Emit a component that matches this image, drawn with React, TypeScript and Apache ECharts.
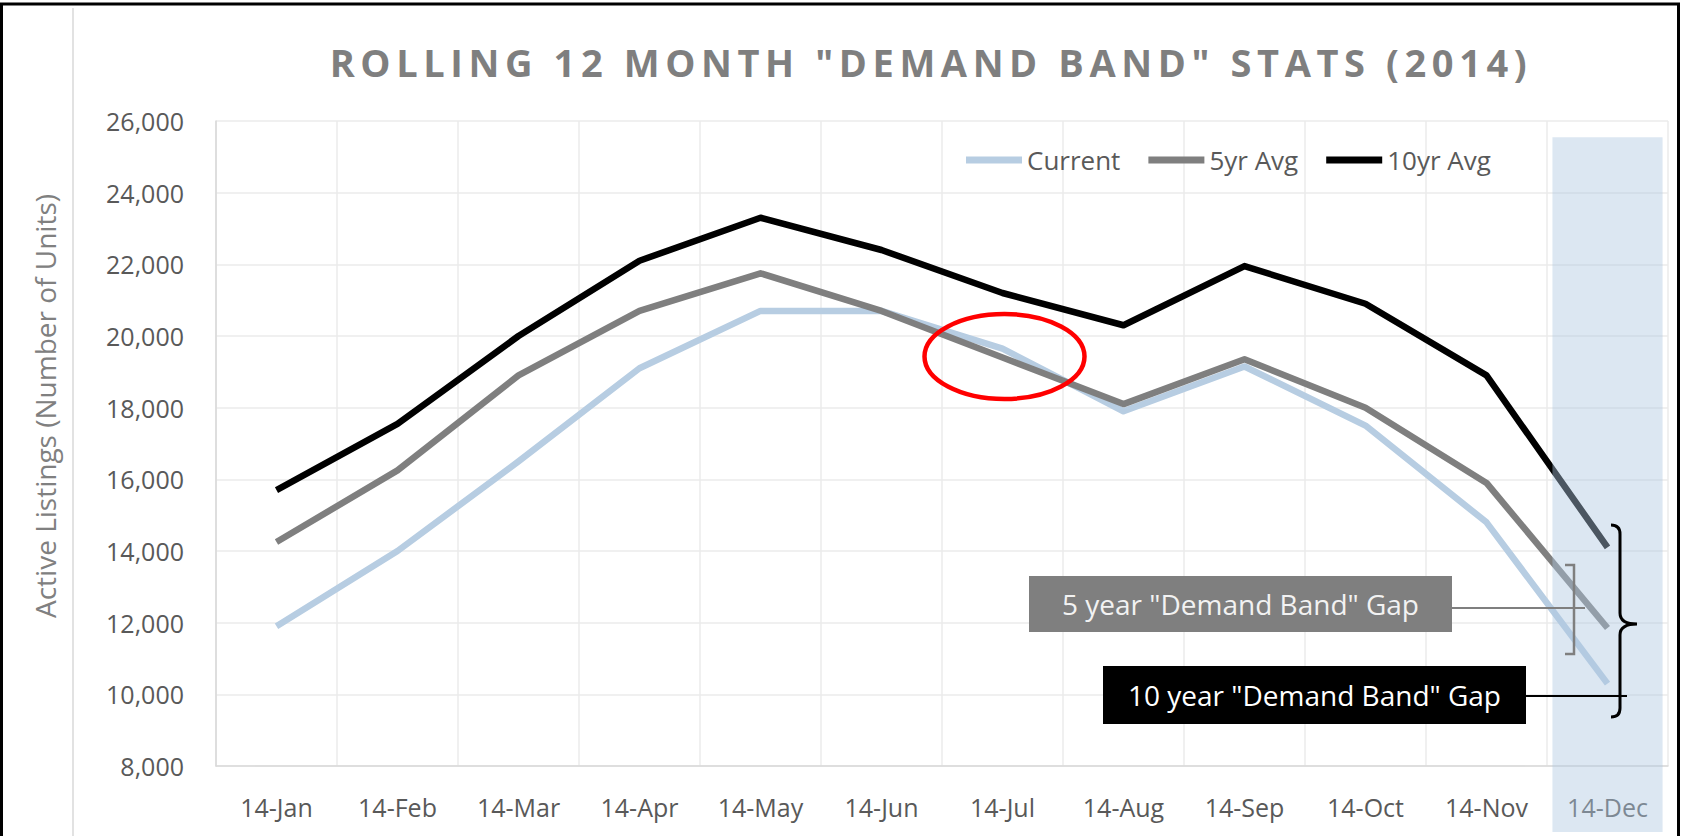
import React, { useEffect, useRef } from 'react';
import * as echarts from 'echarts';

const categories = ['14-Jan', '14-Feb', '14-Mar', '14-Apr', '14-May', '14-Jun', '14-Jul', '14-Aug', '14-Sep', '14-Oct', '14-Nov', '14-Dec'];
const currentValues = [11900, 14000, 16500, 19100, 20700, 20700, 19650, 17900, 19150, 17500, 14800, 10300];
const fiveYearAvg = [14250, 16250, 18900, 20700, 21750, 20700, 19400, 18100, 19350, 18000, 15900, 11850];
const tenYearAvg = [15700, 17550, 20000, 22100, 23300, 22400, 21200, 20300, 21950, 20900, 18900, 14100];
const seriesNames = ['Current', '5yr Avg', '10yr Avg'];
const seriesColors = ['#b7cde2', '#7f7f7f', '#000000'];
const yMin = 8000;
const yMax = 26000;
const yInterval = 2000;
const titleText = 'ROLLING 12 MONTH "DEMAND BAND" STATS (2014)';
const yAxisName = 'Active Listings (Number of Units)';
const gap5Text = '5 year "Demand Band" Gap';
const gap10Text = '10 year "Demand Band" Gap';
const bandTopValue = 25550;

const BRACE_D = 'M0,0 Q9,0 9,9 L9,88 Q9,99 26,99 Q9,99 9,110 L9,183 Q9,192 0,192';
echarts.graphic.registerShape('brace', echarts.graphic.extendPath(BRACE_D, {}));

const FONT = "'Open Sans', 'Noto Sans', sans-serif";

export default function App() {
  const ref = useRef<HTMLDivElement>(null);
  useEffect(() => {
    const chart = echarts.init(ref.current!, null, { renderer: 'svg' });
    const seriesData = [currentValues, fiveYearAvg, tenYearAvg];
    chart.setOption({
      animation: false,
      backgroundColor: '#ffffff',
      grid: { left: 216, right: 15, top: 121, bottom: 70 },
      legend: {
        data: seriesNames,
        left: 966,
        top: 147,
        padding: 0,
        icon: 'rect',
        itemWidth: 56,
        itemHeight: 7,
        itemGap: 28,
        textStyle: { color: '#595959', fontSize: 26, fontFamily: FONT },
      },
      xAxis: {
        type: 'category',
        data: categories,
        boundaryGap: true,
        axisLine: { lineStyle: { color: '#d9d9d9', width: 1.5 } },
        axisTick: { show: false },
        axisLabel: { color: '#595959', fontSize: 25, fontFamily: FONT, margin: 28, interval: 0 },
        splitLine: { show: true, interval: 0, lineStyle: { color: '#ebebeb', width: 1.5 } },
      },
      yAxis: {
        type: 'value',
        min: yMin,
        max: yMax,
        interval: yInterval,
        axisLine: { show: true, lineStyle: { color: '#d9d9d9', width: 1.5 } },
        axisLabel: {
          color: '#595959',
          fontSize: 25,
          fontFamily: FONT,
          margin: 32,
          formatter: (v: number) => v.toLocaleString('en-US'),
        },
        splitLine: { lineStyle: { color: '#ebebeb', width: 1.5 } },
      },
      series: seriesNames.map((name, i) => ({
        name,
        type: 'line',
        data: seriesData[i],
        symbol: 'none',
        lineStyle: { color: seriesColors[i], width: 6.5, join: 'round' },
        itemStyle: { color: seriesColors[i] },
        z: 2 + i,
      })),
    });

    const last = categories.length - 1;
    const p0 = chart.convertToPixel({ gridIndex: 0 }, [0, yMin]) as number[];
    const p1 = chart.convertToPixel({ gridIndex: 0 }, [1, yMin]) as number[];
    const catW = p1[0] - p0[0];
    const pDec = chart.convertToPixel({ gridIndex: 0 }, [last, bandTopValue]) as number[];
    const bandW = catW * 0.91;

    const textStyle = (text: string, x: number, y: number, fill: string, size: number, weight = 'normal') => ({
      text,
      x,
      y,
      fill,
      fontSize: size,
      fontFamily: FONT,
      fontWeight: weight,
      textAlign: 'center',
      align: 'center',
      textVerticalAlign: 'middle',
      verticalAlign: 'middle',
    });

    chart.setOption({
      graphic: [
        { type: 'rect', silent: true, z: 0, shape: { x: 1.5, y: 4, width: 1677, height: 900 }, style: { fill: 'none', stroke: '#000', lineWidth: 3 } },
        { type: 'line', silent: true, z: 0, shape: { x1: 73, y1: 8, x2: 73, y2: 836 }, style: { stroke: '#d9d9d9', lineWidth: 1.5 } },
        { type: 'text', silent: true, z: 60, style: textStyle(titleText, 931, 62, '#7f7f7f', 38, 'bold') },
        {
          type: 'text', silent: true, z: 60, x: 45, y: 406, rotation: Math.PI / 2,
          style: textStyle(yAxisName, 0, 0, '#808080', 28),
        },
        {
          type: 'rect', silent: true, z: 50,
          shape: { x: pDec[0] - bandW / 2, y: pDec[1], width: bandW, height: 832 - pDec[1] },
          style: { fill: 'rgba(173,199,225,0.43)' },
        },
        { type: 'ellipse', silent: true, z: 60, shape: { cx: 1004.5, cy: 356.5, rx: 80, ry: 42.5 }, style: { fill: 'none', stroke: '#ff0000', lineWidth: 4.5 } },
        { type: 'rect', silent: true, z: 60, shape: { x: 1029, y: 576, width: 423, height: 56 }, style: { fill: '#7f7f7f' } },
        { type: 'text', silent: true, z: 61, style: textStyle(gap5Text, 1240.5, 604, '#f2f2f2', 28) },
        { type: 'line', silent: true, z: 60, shape: { x1: 1452, y1: 608, x2: 1585, y2: 608 }, style: { stroke: '#7f7f7f', lineWidth: 2 } },
        { type: 'polyline', silent: true, z: 60, shape: { points: [[1565, 565], [1574, 565], [1574, 654], [1565, 654]] }, style: { fill: 'none', stroke: '#7f7f7f', lineWidth: 2.5 } },
        { type: 'rect', silent: true, z: 60, shape: { x: 1103, y: 666, width: 423, height: 58 }, style: { fill: '#000000' } },
        { type: 'text', silent: true, z: 61, style: textStyle(gap10Text, 1314.5, 695, '#ffffff', 28) },
        { type: 'line', silent: true, z: 60, shape: { x1: 1526, y1: 696, x2: 1627, y2: 696 }, style: { stroke: '#000000', lineWidth: 2 } },
        { type: 'brace', silent: true, z: 60, x: 1611, y: 525, style: { fill: 'none', stroke: '#000000', lineWidth: 3 } },
      ],
    });

    return () => chart.dispose();
  }, []);

  return (
    <>
      <style>{`body{margin:0} .chart-host text[style*="bold"]{letter-spacing:5.6px}`}</style>
      <div
        ref={ref}
        className="chart-host"
        style={{ position: 'fixed', left: 0, top: 0, width: 1683, height: 836 }}
      />
    </>
  );
}
